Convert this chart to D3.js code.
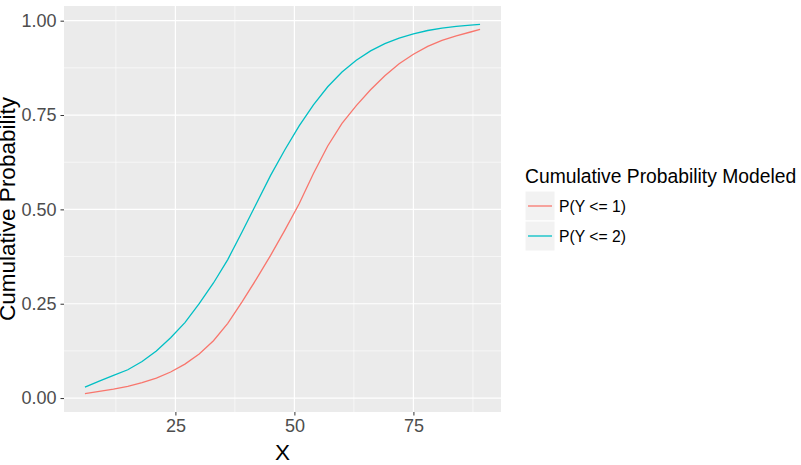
<!DOCTYPE html>
<html>
<head>
<meta charset="utf-8">
<script src="https://cdn.jsdelivr.net/npm/d3@7"></script>
<style>
  html, body { margin: 0; padding: 0; background: #fff; }
  svg { display: block; font-family: "Liberation Sans", Arial, sans-serif; }
</style>
</head>
<body>
<svg id="chart" width="801" height="465"></svg>
<script>
// ---- data ----
const xValues = [6, 9, 12, 15, 18, 21, 24, 27, 30, 33, 36, 39, 42, 45, 48, 51, 54, 57, 60, 63, 66, 69, 72, 75, 78, 81, 84, 87, 89];
const pY1 = [0.012, 0.018, 0.024, 0.031, 0.041, 0.053, 0.069, 0.090, 0.117, 0.152, 0.198, 0.255, 0.315, 0.378, 0.445, 0.515, 0.595, 0.668, 0.728, 0.775, 0.817, 0.854, 0.886, 0.911, 0.932, 0.948, 0.960, 0.970, 0.977];
const pY2 = [0.029, 0.045, 0.060, 0.075, 0.097, 0.125, 0.160, 0.200, 0.250, 0.305, 0.367, 0.440, 0.515, 0.590, 0.658, 0.721, 0.777, 0.825, 0.864, 0.895, 0.920, 0.939, 0.954, 0.965, 0.974, 0.980, 0.985, 0.988, 0.990];
const seriesNames = ["P(Y <= 1)", "P(Y <= 2)"];
const seriesColors = ["#F8766D", "#00BFC4"];
const xTicks = [25, 50, 75];
const yTicks = [0, 0.25, 0.5, 0.75, 1.0];
const xMinor = [12.5, 37.5, 62.5, 87.5];
const yMinor = [0.125, 0.375, 0.625, 0.875];

const series = [pY1, pY2].map((vals, i) => ({
  name: seriesNames[i], color: seriesColors[i],
  points: xValues.map((x, j) => ({ x, y: vals[j] }))
}));

// ---- layout ----
const svg = d3.select("#chart");
const panel = { left: 64, top: 6, right: 501, bottom: 412 };

const x = d3.scaleLinear().domain([1.6, 93.4]).range([panel.left, panel.right]);
const allY = pY1.concat(pY2);
const yExt = d3.extent(allY);
const yPad = (yExt[1] - yExt[0]) * 0.05;
const y = d3.scaleLinear().domain([yExt[0] - yPad, yExt[1] + yPad]).range([panel.bottom, panel.top]);

// panel background
svg.append("rect")
  .attr("x", panel.left).attr("y", panel.top)
  .attr("width", panel.right - panel.left).attr("height", panel.bottom - panel.top)
  .attr("fill", "#EBEBEB");

const grid = svg.append("g");
// minor grid
grid.selectAll(".vminor").data(xMinor).enter().append("line")
  .attr("x1", d => x(d)).attr("x2", d => x(d))
  .attr("y1", panel.top).attr("y2", panel.bottom)
  .attr("stroke", "#fff").attr("stroke-width", 0.6);
grid.selectAll(".hminor").data(yMinor).enter().append("line")
  .attr("y1", d => y(d)).attr("y2", d => y(d))
  .attr("x1", panel.left).attr("x2", panel.right)
  .attr("stroke", "#fff").attr("stroke-width", 0.6);
// major grid
grid.selectAll(".vmajor").data(xTicks).enter().append("line")
  .attr("x1", d => x(d)).attr("x2", d => x(d))
  .attr("y1", panel.top).attr("y2", panel.bottom)
  .attr("stroke", "#fff").attr("stroke-width", 1.2);
grid.selectAll(".hmajor").data(yTicks).enter().append("line")
  .attr("y1", d => y(d)).attr("y2", d => y(d))
  .attr("x1", panel.left).attr("x2", panel.right)
  .attr("stroke", "#fff").attr("stroke-width", 1.2);

// lines
const line = d3.line().x(d => x(d.x)).y(d => y(d.y));
svg.append("g").selectAll("path").data(series).enter().append("path")
  .attr("d", d => line(d.points))
  .attr("fill", "none")
  .attr("stroke", d => d.color)
  .attr("stroke-width", 1.3);

// axes
const xAxis = d3.axisBottom(x).tickValues(xTicks).tickFormat(d3.format("d")).tickSize(3.5).tickPadding(4);
const gx = svg.append("g").attr("transform", `translate(0,${panel.bottom})`).call(xAxis);
gx.select(".domain").remove();
gx.selectAll(".tick line").attr("stroke", "#333").attr("stroke-width", 1);
gx.selectAll(".tick text").attr("fill", "#4D4D4D").attr("font-size", 18)
  .attr("font-family", "Liberation Sans, Arial, sans-serif");

const yAxis = d3.axisLeft(y).tickValues(yTicks).tickFormat(d3.format(".2f")).tickSize(3.5).tickPadding(4);
const gy = svg.append("g").attr("transform", `translate(${panel.left},0)`).call(yAxis);
gy.select(".domain").remove();
gy.selectAll(".tick line").attr("stroke", "#333").attr("stroke-width", 1);
gy.selectAll(".tick text").attr("fill", "#4D4D4D").attr("font-size", 18)
  .attr("font-family", "Liberation Sans, Arial, sans-serif");

// axis titles
svg.append("text")
  .attr("x", (panel.left + panel.right) / 2).attr("y", 459.5)
  .attr("text-anchor", "middle").attr("font-size", 22.5).attr("fill", "#000")
  .text("X");
svg.append("text")
  .attr("transform", `translate(14.5,${(panel.top + panel.bottom) / 2}) rotate(-90)`)
  .attr("text-anchor", "middle").attr("font-size", 22.5).attr("fill", "#000")
  .text("Cumulative Probability");

// legend
const legend = svg.append("g");
legend.append("text").attr("x", 525).attr("y", 183)
  .attr("font-size", 19.3).attr("fill", "#000")
  .text("Cumulative Probability Modeled");
const keys = legend.selectAll(".key").data(series).enter().append("g")
  .attr("transform", (d, i) => `translate(525,${191 + i * 30})`);
keys.append("rect").attr("width", 30).attr("height", 30).attr("fill", "#F2F2F2")
  .attr("stroke", "#fff").attr("stroke-width", 1);
keys.append("line").attr("x1", 3).attr("x2", 27).attr("y1", 15).attr("y2", 15)
  .attr("stroke", d => d.color).attr("stroke-width", 1.3);
keys.append("text").attr("x", 34).attr("y", 15).attr("dy", "0.36em")
  .attr("font-size", 15.7).attr("fill", "#000")
  .text(d => d.name);
</script>
</body>
</html>
